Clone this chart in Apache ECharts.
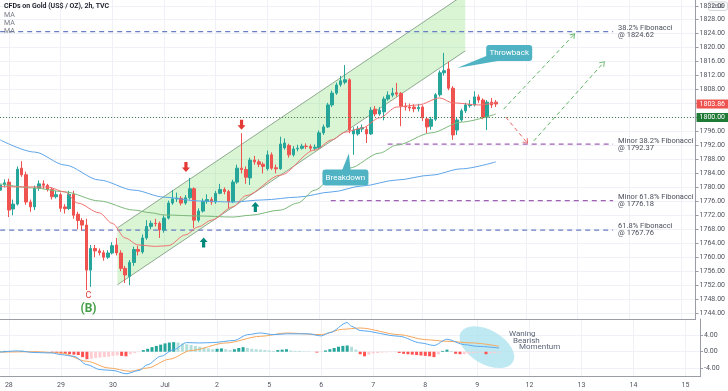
<!DOCTYPE html>
<html>
<head>
<meta charset="utf-8">
<script src="https://cdn.jsdelivr.net/npm/echarts@6.0.0/dist/echarts.min.js"></script>
<style>
  html, body { margin: 0; padding: 0; background: #fff; }
  #chart { width: 728px; height: 391px; }
</style>
</head>
<body>
<div id="chart"></div>
<script>
// time axis: one label per trading day, 12 two-hour bars a day
const dayLabels = ['28', '29', '30', 'Jul', '2', '5', '6', '7', '8', '9', '12', '13', '14', '15'];
const firstDayBar = 2;
const barsPerDay = 12;

// 2h candles: [open, close, low, high]
const candles = [
  [1779.2, 1780.7, 1778.5, 1781.5], [1780.7, 1781.3, 1780.0, 1782.3], [1781.5, 1773.5, 1771.5, 1782.5],
  [1773.8, 1775.2, 1772.0, 1776.5], [1775.2, 1785.2, 1774.8, 1786.0], [1785.5, 1783.6, 1783.0, 1787.5],
  [1783.6, 1775.8, 1775.0, 1784.5], [1775.8, 1774.4, 1773.0, 1776.5], [1774.4, 1779.8, 1773.5, 1780.5],
  [1779.8, 1781.0, 1779.0, 1782.0], [1781.0, 1780.6, 1779.5, 1782.0], [1780.6, 1779.4, 1778.8, 1781.0],
  [1779.4, 1777.3, 1776.5, 1780.0], [1777.3, 1777.9, 1776.8, 1779.0], [1777.9, 1774.0, 1773.0, 1778.5],
  [1774.4, 1773.9, 1772.5, 1775.2], [1773.9, 1778.0, 1773.5, 1779.0], [1778.0, 1772.0, 1771.0, 1779.0],
  [1772.3, 1770.5, 1768.0, 1773.0], [1770.5, 1769.2, 1767.6, 1771.2], [1769.2, 1756.3, 1750.6, 1771.0],
  [1756.3, 1762.5, 1751.5, 1763.5], [1762.5, 1761.8, 1760.0, 1763.5], [1761.8, 1761.3, 1760.5, 1762.5],
  [1761.3, 1760.0, 1759.0, 1762.0], [1760.0, 1761.2, 1759.5, 1762.0], [1761.2, 1763.3, 1760.8, 1764.3],
  [1763.5, 1761.2, 1760.5, 1765.5], [1761.2, 1756.8, 1756.0, 1762.0], [1756.8, 1754.9, 1752.6, 1757.5],
  [1754.5, 1758.5, 1752.0, 1759.2], [1758.5, 1762.2, 1757.5, 1763.0], [1762.2, 1761.7, 1760.5, 1763.2],
  [1761.5, 1765.5, 1761.0, 1766.5], [1765.5, 1768.8, 1765.0, 1770.6], [1768.8, 1769.7, 1768.0, 1770.5],
  [1769.7, 1769.6, 1768.8, 1771.0], [1769.7, 1767.8, 1765.5, 1770.2], [1767.8, 1771.2, 1767.0, 1772.0],
  [1771.2, 1775.5, 1770.8, 1776.2], [1775.5, 1776.7, 1775.0, 1779.2], [1776.7, 1776.9, 1775.8, 1778.5],
  [1776.9, 1775.5, 1774.8, 1777.5], [1775.5, 1777.0, 1775.0, 1777.8], [1777.0, 1779.6, 1776.5, 1782.7],
  [1779.6, 1770.6, 1768.3, 1780.0], [1770.6, 1773.2, 1770.0, 1774.0], [1773.2, 1776.0, 1772.8, 1776.8],
  [1776.0, 1776.5, 1775.3, 1778.0], [1776.5, 1775.8, 1775.0, 1777.2], [1775.8, 1778.3, 1775.3, 1779.0],
  [1778.3, 1779.4, 1778.0, 1781.0], [1779.4, 1778.8, 1778.0, 1780.0], [1778.8, 1775.9, 1773.8, 1779.3],
  [1775.9, 1781.5, 1775.5, 1782.2], [1781.5, 1785.5, 1781.0, 1786.5], [1785.5, 1785.1, 1784.0, 1795.5],
  [1785.1, 1782.9, 1781.0, 1786.0], [1782.7, 1787.8, 1780.7, 1788.5], [1787.8, 1787.3, 1786.5, 1789.0],
  [1787.3, 1786.6, 1785.8, 1788.0], [1786.6, 1786.0, 1784.0, 1787.2], [1785.3, 1789.3, 1784.8, 1790.5],
  [1789.3, 1785.5, 1785.0, 1790.0], [1785.6, 1785.3, 1784.0, 1786.5], [1785.3, 1792.4, 1785.0, 1794.5],
  [1791.3, 1792.7, 1790.8, 1794.0], [1792.0, 1789.3, 1788.5, 1792.5], [1789.3, 1791.0, 1788.8, 1791.8],
  [1791.0, 1791.2, 1790.3, 1792.2], [1791.2, 1791.8, 1790.8, 1792.5], [1791.8, 1791.7, 1791.0, 1792.6],
  [1791.7, 1791.2, 1790.5, 1792.3], [1791.2, 1791.5, 1790.6, 1792.3], [1791.3, 1795.6, 1791.0, 1796.3],
  [1795.6, 1797.3, 1795.0, 1798.0], [1797.3, 1803.6, 1797.0, 1804.2], [1803.6, 1807.0, 1803.0, 1807.7],
  [1807.0, 1809.3, 1806.5, 1810.0], [1809.4, 1810.5, 1808.8, 1811.9], [1810.1, 1810.8, 1809.5, 1815.0],
  [1810.8, 1796.4, 1795.5, 1811.2], [1795.3, 1796.4, 1789.3, 1797.2], [1795.3, 1796.7, 1794.8, 1797.5],
  [1796.7, 1797.1, 1795.8, 1798.0], [1796.6, 1795.3, 1792.7, 1797.5], [1795.3, 1802.1, 1795.0, 1803.0],
  [1802.4, 1801.0, 1800.3, 1803.3], [1801.0, 1802.1, 1800.5, 1803.0], [1801.6, 1805.3, 1799.2, 1806.0],
  [1805.3, 1806.4, 1804.8, 1807.5], [1806.4, 1807.0, 1805.8, 1808.5], [1807.1, 1806.7, 1806.0, 1809.9],
  [1806.9, 1803.3, 1797.5, 1807.3], [1803.3, 1803.0, 1802.0, 1804.2], [1803.0, 1802.7, 1801.8, 1804.0],
  [1803.0, 1802.5, 1801.5, 1803.8], [1802.5, 1802.9, 1801.7, 1803.9], [1803.0, 1799.9, 1799.0, 1803.5],
  [1799.6, 1797.3, 1795.5, 1800.2], [1797.5, 1799.5, 1796.5, 1800.2], [1799.5, 1806.5, 1799.0, 1807.0],
  [1806.5, 1812.8, 1806.0, 1813.5], [1812.8, 1813.4, 1812.0, 1818.5], [1813.9, 1808.4, 1807.8, 1816.0],
  [1808.4, 1795.0, 1793.6, 1809.0], [1796.4, 1799.3, 1795.0, 1800.0], [1799.3, 1801.9, 1798.8, 1802.5],
  [1801.9, 1803.6, 1801.3, 1804.2], [1803.4, 1803.7, 1802.8, 1805.0], [1803.6, 1805.9, 1803.2, 1807.5],
  [1805.9, 1805.0, 1804.2, 1806.6], [1805.0, 1800.1, 1799.5, 1805.5], [1800.1, 1804.4, 1796.4, 1805.0],
  [1804.4, 1803.6, 1802.7, 1805.6], [1804.4, 1803.86, 1803.0, 1805.0]
];
const lastPrice = 1803.86;
const levelPrice = 1800;

// moving averages, [bar, price]
const redMA = [[0, 1780.2], [11, 1780.1], [15, 1778.7], [18, 1775.5], [23, 1772.7], [26, 1769.7], [29, 1765.5],
  [32, 1763.5], [36, 1763.1], [39, 1763.3], [43, 1766.4], [46, 1768.7], [49, 1770.6], [54, 1774.4], [57, 1777.6],
  [65, 1783.5], [73, 1790.7], [77, 1793.6], [80, 1795.8], [84, 1797.0], [88, 1799.9], [92, 1803.0], [97, 1803.6],
  [102, 1805.6], [105, 1804.2], [111, 1803.6], [115, 1804.2]];
const greenMA = [[0, 1781.0], [8, 1779.8], [15, 1778.7], [23, 1776.1], [31, 1773.5], [35, 1772.7], [38, 1772.1],
  [46, 1771.8], [54, 1771.5], [58, 1772.0], [65, 1773.5], [69, 1775.5], [73, 1779.2], [77, 1782.7], [81, 1785.5],
  [88, 1789.8], [92, 1792.1], [100, 1795.6], [107, 1798.7], [115, 1801.0]];
const blueMA = [[0, 1793.6], [8, 1790.1], [15, 1786.4], [23, 1782.1], [31, 1779.2], [38, 1777.2], [46, 1776.1],
  [54, 1775.8], [61, 1776.4], [69, 1777.2], [77, 1778.7], [84, 1780.4], [92, 1782.1], [100, 1783.5], [107, 1785.3],
  [115, 1787.3]];

// MACD pane
const macdLine = [[0, -0.1], [4, 0.2], [8, -0.2], [12, -0.3], [14, -0.7], [17, -1.1], [20, -3.1], [23, -4.3],
  [26, -4.5], [29, -5.3], [32, -4.5], [34, -3.1], [37, -1.1], [40, 0.5], [43, 2.2], [46, 2.1], [49, 2.2], [54, 2.7],
  [57, 4.1], [60, 4.5], [63, 4.1], [66, 4.3], [71, 4.3], [74, 3.8], [76, 4.6], [80, 7.0], [81, 6.1], [83, 5.1],
  [92, 3.7], [97, 2.1], [100, 1.5], [103, 3.0], [107, 1.7], [110, 1.3], [115, 0.9]];
const signalLine = [[0, -0.1], [8, 0.0], [14, -0.3], [20, -2.3], [25, -3.9], [30, -4.7], [34, -3.9], [39, -1.8],
  [44, 0.3], [52, 2.1], [60, 3.7], [66, 4.5], [74, 4.1], [79, 5.4], [83, 5.7], [92, 4.1], [98, 2.9], [103, 2.5],
  [109, 2.1], [115, 1.3]];
const histogram = [
  0.1, 0.2, 0.2, 0.1, 0.1, 0.2, 0.1, 0.0, -0.1, -0.1, -0.1, 0.0, -0.1,
  -0.3, -0.4, -0.5, -0.6, -0.7, -0.8, -1.3, -1.8, -1.7, -1.5, -1.4, -1.3, -1.2, -1.0, -0.9, -1.0, -1.1, -0.6, -0.3, -0.1,
  0.4, 0.7, 1.1, 1.4, 1.7, 2.0, 2.2, 2.3, 2.2, 2.0, 1.8, 1.6, 1.4, 1.2, 1.0, 0.8, 0.6,
  0.7, 0.8, 0.6, 0.4, 0.6, 0.9, 1.1, 0.9, 0.7, 0.6, 0.5, 0.4, 0.3, 0.2, 0.4, 0.5, 0.6,
  0.3, 0.2, 0.2, 0.1, 0.1, 0.0, -0.2, -0.1, 0.3, 0.6, 0.9, 1.2, 1.4, 1.5, 1.2, 0.5,
  -0.6, -1.1, -0.7, -0.4, -0.3, -0.2, -0.15, -0.1, -0.1, -0.3, -0.5, -0.6, -0.7, -0.8, -0.9, -1.0, -1.1, -1.3, -0.6,
  0.2, 0.5, 0.2, -0.5, -0.6, -0.6, -0.4, -0.3, -0.2, -0.2, -0.6, -0.4, -0.3, -0.2
];
const macdTicks = [-4, 0, 4];

// Fibonacci levels
const fibNames = ['38.2% Fibonacci', 'Minor 38.2% Fibonacci', 'Minor 61.8% Fibonacci', '61.8% Fibonacci'];
const fibPrices = [1824.62, 1792.37, 1776.18, 1767.76];
const fibStartBars = [0, 89.9, 76.7, 0];
const fibMinor = [false, true, true, false];
const fibEndBar = 142.2;

// rising channel: left/right bar, lower/upper price at the left edge, rise per bar
const channelBars = [27.2, 107.9];
const channelStart = [1752.1, 1768.4];
const channelRise = 0.83;

// projected paths [bar, price]
const projFrom = [[117.3, 1800.1], [116.8, 1802.4], [123.8, 1793.3]];
const projTo = [[122.1, 1793.0], [133.0, 1823.6], [139.9, 1815.6]];
const projBearish = [true, false, false];

// signal arrows
const downArrows = [[43.1, 1785.8], [56.0, 1797.9]];
const upArrows = [[47.2, 1764.2], [59.2, 1774.4]];

// wave labels
const waveLabels = ['C', '(B)'];
const wavePoints = [[20.5, 1748.9], [20.5, 1745.2]];

// callouts: box centre and pointer tip
const calloutText = ['Throwback', 'Breakdown'];
const calloutBox = [[118.1, 1818.5], [80.1, 1782.8]];
const calloutTip = [[106.0, 1814.2], [80.9, 1789.8]];

// MACD note
const noteText = ['Waning', 'Bearish', 'Momentum'];
const notePoints = [[117.3, 4.25], [118.2, 2.6], [119.6, 1.06]];
const focusCenter = [112.2, 1.1];

const priceTicks = [];
for (let p = 1744; p <= 1832; p += 4) priceTicks.push(p);
const dayStarts = dayLabels.map((d, k) => firstDayBar + k * barsPerDay);

const FONT = 'Roboto, "Open Sans", sans-serif';
const GRID_LINE = '#eff1f6';
const AXIS_LINE = '#9a9da6';
const AXIS_TEXT = '#50535e';
const UP = '#26a69a';
const DOWN = '#ef5350';
const xMin = -0.04, xMax = 161.33;

const chart = echarts.init(document.getElementById('chart'));

function xAxisFor(gridIndex, showLabels) {
  return {
    type: 'value', gridIndex: gridIndex, min: xMin, max: xMax,
    axisLine: { show: true, onZero: false, lineStyle: { color: AXIS_LINE, width: 1 } },
    axisTick: { show: false, customValues: dayStarts },
    axisLabel: {
      show: showLabels, customValues: dayStarts, color: AXIS_TEXT, fontSize: 7, margin: 5, fontFamily: FONT,
      formatter: v => dayLabels[Math.round((v - firstDayBar) / barsPerDay)] || ''
    },
    splitLine: { show: true, lineStyle: { color: GRID_LINE, width: 1 } }
  };
}

const histData = histogram.map((v, i) => {
  const prev = i ? histogram[i - 1] : 0;
  let color;
  if (v >= 0) color = v > prev ? UP : '#b2dfdb';
  else color = v < prev ? '#ff5252' : '#ffcdd2';
  return { value: [i, v], itemStyle: { color: color } };
});

const chevron = 'path://M0,10 L5,0 L10,10 L8.4,10 L5,3.2 L1.6,10 Z';
const arrowDown = 'path://M3,0 L7,0 L7,6 L10,6 L5,11 L0,6 L3,6 Z';
const arrowUp = 'path://M5,0 L10,5 L7,5 L7,11 L3,11 L3,5 L0,5 Z';

function priceTag(value, color) {
  return {
    yAxis: value,
    lineStyle: { width: 0, color: 'rgba(0,0,0,0)' },
    label: { show: true, position: 'end', distance: 1, formatter: value.toFixed(2), color: '#fff',
      backgroundColor: color, padding: [1, 3], fontSize: 7, fontFamily: FONT }
  };
}

const series = [
  {
    // channel fill and borders
    type: 'custom', xAxisIndex: 0, yAxisIndex: 0, z: 1, silent: true,
    data: [[channelBars[0], channelStart[0]]],
    renderItem: function (params, api) {
      const rise = channelRise * (channelBars[1] - channelBars[0]);
      const a = api.coord([channelBars[0], channelStart[0]]);
      const b = api.coord([channelBars[0], channelStart[1]]);
      const c = api.coord([channelBars[1], channelStart[1] + rise]);
      const d = api.coord([channelBars[1], channelStart[0] + rise]);
      const stroke = { stroke: '#8fa98f', lineWidth: 1 };
      return {
        type: 'group',
        children: [
          { type: 'polygon', shape: { points: [a, b, c, d] }, style: { fill: 'rgba(120, 220, 100, 0.28)' } },
          { type: 'line', shape: { x1: a[0], y1: a[1], x2: d[0], y2: d[1] }, style: stroke },
          { type: 'line', shape: { x1: b[0], y1: b[1], x2: c[0], y2: c[1] }, style: stroke }
        ]
      };
    }
  },
  ...fibPrices.map((price, k) => ({
    type: 'line', xAxisIndex: 0, yAxisIndex: 0, z: 2, silent: true, symbol: 'none',
    data: [[fibStartBars[k], price], [fibEndBar, price]],
    lineStyle: { color: fibMinor[k] ? '#a060b4' : '#6b7fc4', width: 1.3, type: [5, 4] },
    endLabel: {
      show: true, distance: 5, formatter: fibNames[k] + '\n@ ' + price.toFixed(2),
      color: '#4a4e5a', fontSize: 7.5, lineHeight: 7, fontFamily: FONT
    }
  })),
  {
    type: 'candlestick', xAxisIndex: 0, yAxisIndex: 0, z: 3, barWidth: 3,
    data: candles.map((c, i) => [i, c[0], c[1], c[2], c[3]]),
    itemStyle: { color: UP, color0: DOWN, borderColor: UP, borderColor0: DOWN, borderWidth: 1 },
    markLine: {
      silent: true, symbol: 'none', animation: false,
      data: [
        {
          yAxis: levelPrice, lineStyle: { color: '#4f7f4f', type: [1, 2], width: 1 },
          label: { show: true, position: 'end', distance: 1, formatter: levelPrice.toFixed(2), color: '#fff',
            backgroundColor: '#1f7a36', padding: [1, 3], fontSize: 7, fontFamily: FONT }
        }
      ]
    }
  },
  {
    // last price tag on the scale
    type: 'line', xAxisIndex: 0, yAxisIndex: 0, data: [], z: 8,
    markLine: { silent: true, symbol: 'none', animation: false, data: [priceTag(lastPrice, DOWN)] }
  },
  { type: 'line', xAxisIndex: 0, yAxisIndex: 0, z: 4, symbol: 'none', smooth: 0.3, smoothMonotone: 'x',
    data: blueMA, lineStyle: { color: '#5ea4e8', width: 1 } },
  { type: 'line', xAxisIndex: 0, yAxisIndex: 0, z: 4, symbol: 'none', smooth: 0.3, smoothMonotone: 'x',
    data: greenMA, lineStyle: { color: '#7cb87a', width: 1 } },
  { type: 'line', xAxisIndex: 0, yAxisIndex: 0, z: 4, symbol: 'none', smooth: 0.3, smoothMonotone: 'x',
    data: redMA, lineStyle: { color: '#f07070', width: 1 } },
  {
    // projected moves
    type: 'line', xAxisIndex: 0, yAxisIndex: 0, data: [], z: 5,
    markLine: {
      silent: true, animation: false, symbol: ['none', chevron], symbolSize: [7, 5],
      label: { show: false },
      data: projFrom.map((p, k) => [
        { coord: p, lineStyle: { color: projBearish[k] ? '#e86060' : '#5fb463', width: 1, type: [4, 3] },
          itemStyle: { color: projBearish[k] ? '#e86060' : '#5fb463' } },
        { coord: projTo[k] }
      ])
    }
  },
  { type: 'scatter', xAxisIndex: 0, yAxisIndex: 0, z: 6, silent: true, symbol: arrowDown, symbolSize: [8, 10],
    data: downArrows, itemStyle: { color: '#e53935', opacity: 1 } },
  { type: 'scatter', xAxisIndex: 0, yAxisIndex: 0, z: 6, silent: true, symbol: arrowUp, symbolSize: [8, 10],
    data: upArrows, itemStyle: { color: '#00897b', opacity: 1 } },
  {
    type: 'custom', xAxisIndex: 0, yAxisIndex: 0, z: 6, silent: true, data: wavePoints,
    renderItem: function (params, api) {
      const p = api.coord([api.value(0), api.value(1)]);
      const isB = params.dataIndex === 1;
      return {
        type: 'text', x: p[0], y: p[1],
        style: { text: waveLabels[params.dataIndex], fill: isB ? '#43a047' : '#e53935',
          font: (isB ? 'bold 12px ' : '9px ') + FONT, align: 'center', verticalAlign: 'middle' }
      };
    }
  },
  {
    type: 'custom', xAxisIndex: 0, yAxisIndex: 0, z: 7, silent: true, data: calloutBox,
    renderItem: function (params, api) {
      const k = params.dataIndex;
      const c = api.coord(calloutBox[k]);
      const t = api.coord(calloutTip[k]);
      const w = 46, h = 16;
      const dx = t[0] - c[0], dy = t[1] - c[1];
      const len = Math.sqrt(dx * dx + dy * dy) || 1;
      const px = -dy / len * 6, py = dx / len * 6;
      const fill = '#4fb3c3';
      return {
        type: 'group',
        children: [
          { type: 'polygon', shape: { points: [t, [c[0] + px, c[1] + py], [c[0] - px, c[1] - py]] }, style: { fill: fill } },
          { type: 'rect', shape: { x: c[0] - w / 2, y: c[1] - h / 2, width: w, height: h, r: 3 }, style: { fill: fill } },
          { type: 'text', x: c[0], y: c[1],
            style: { text: calloutText[k], fill: '#fff', font: '8px ' + FONT, align: 'center', verticalAlign: 'middle' } }
        ]
      };
    }
  },
  {
    // MACD focus ellipse
    type: 'custom', xAxisIndex: 1, yAxisIndex: 1, z: 1, silent: true, data: [focusCenter],
    renderItem: function (params, api) {
      const c = api.coord([api.value(0), api.value(1)]);
      return {
        type: 'circle', x: c[0], y: c[1], rotation: -0.52, scaleX: 30 / 17,
        shape: { cx: 0, cy: 0, r: 17 }, style: { fill: 'rgba(170, 225, 238, 0.75)' }
      };
    }
  },
  { type: 'bar', xAxisIndex: 1, yAxisIndex: 1, z: 2, barWidth: 3, data: histData, silent: true },
  { type: 'line', xAxisIndex: 1, yAxisIndex: 1, z: 3, symbol: 'none', smooth: 0.3, smoothMonotone: 'x',
    data: signalLine, lineStyle: { color: '#f5a65b', width: 1 } },
  { type: 'line', xAxisIndex: 1, yAxisIndex: 1, z: 3, symbol: 'none', smooth: 0.3, smoothMonotone: 'x',
    data: macdLine, lineStyle: { color: '#58a8ef', width: 1 } },
  {
    type: 'custom', xAxisIndex: 1, yAxisIndex: 1, z: 4, silent: true, data: notePoints,
    renderItem: function (params, api) {
      const p = api.coord([api.value(0), api.value(1)]);
      return {
        type: 'text', x: p[0], y: p[1],
        style: { text: noteText[params.dataIndex], fill: '#5c6678', font: '8px ' + FONT, align: 'left', verticalAlign: 'middle' }
      };
    }
  }
];

const option = {
  animation: false,
  backgroundColor: '#ffffff',
  textStyle: { fontFamily: FONT },
  grid: [
    { left: 0, top: 0, width: 700, height: 319 },
    { left: 0, top: 319, width: 700, height: 57.7 }
  ],
  xAxis: [xAxisFor(0, false), xAxisFor(1, true)],
  yAxis: [
    {
      type: 'value', gridIndex: 0, position: 'right', min: 1742.3, max: 1833.65,
      axisLine: { show: true, onZero: false, lineStyle: { color: AXIS_LINE } },
      axisTick: { show: true, length: 3, customValues: priceTicks, lineStyle: { color: AXIS_LINE } },
      axisLabel: { customValues: priceTicks, formatter: v => v.toFixed(2), color: AXIS_TEXT, fontSize: 7, margin: 4, fontFamily: FONT },
      splitLine: { show: true, lineStyle: { color: GRID_LINE } }
    },
    {
      type: 'value', gridIndex: 1, position: 'right', min: -6.0, max: 7.86,
      axisLine: { show: true, onZero: false, lineStyle: { color: AXIS_LINE } },
      axisTick: { show: true, length: 3, customValues: macdTicks, lineStyle: { color: AXIS_LINE } },
      axisLabel: { customValues: macdTicks, formatter: v => v.toFixed(2), color: AXIS_TEXT, fontSize: 7, margin: 4, fontFamily: FONT },
      splitLine: { show: true, lineStyle: { color: GRID_LINE } }
    }
  ],
  graphic: [
    { type: 'text', left: 4, top: 3, z: 100, style: { text: 'CFDs on Gold (US$ / OZ), 2h, TVC', fill: '#131722', font: '600 7px ' + FONT } },
    { type: 'text', left: 4, top: 11.5, z: 100, style: { text: 'MA', fill: '#787b86', font: '7px ' + FONT } },
    { type: 'text', left: 4, top: 20, z: 100, style: { text: 'MA', fill: '#787b86', font: '7px ' + FONT } },
    { type: 'text', left: 4, top: 28, z: 100, style: { text: 'MA', fill: '#787b86', font: '7px ' + FONT } },
    {
      type: 'group', left: 708, top: 1.5, z: 100,
      children: [
        { type: 'rect', shape: { x: 0, y: 0, width: 19, height: 8.5, r: 2 }, style: { fill: '#fff', stroke: '#c3c6ce', lineWidth: 0.8 } },
        { type: 'text', x: 9.5, y: 4.3, style: { text: 'USD', fill: AXIS_TEXT, font: '6px ' + FONT, align: 'center', verticalAlign: 'middle' } }
      ]
    }
  ],
  series: series
};

chart.setOption(option);
window.addEventListener('resize', () => chart.resize());
</script>
</body>
</html>
